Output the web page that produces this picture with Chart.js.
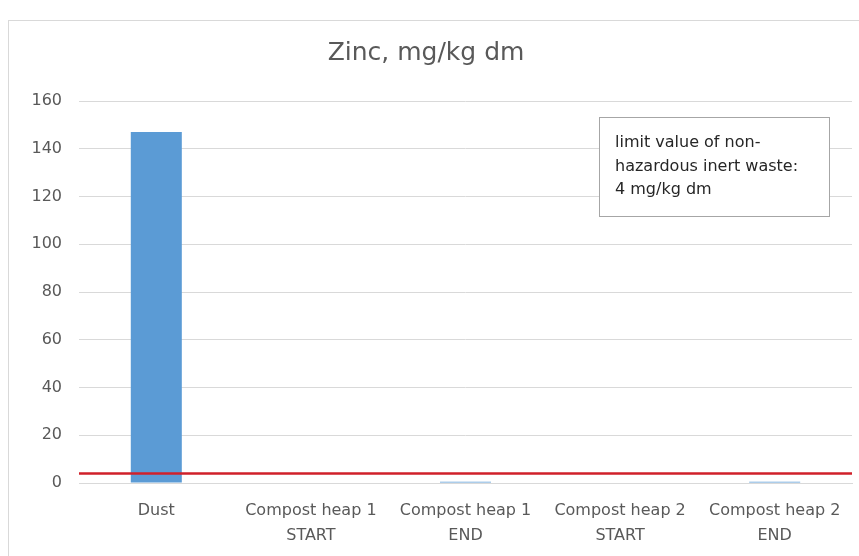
<!DOCTYPE html>
<html><head><meta charset="utf-8">
<script src="https://cdn.jsdelivr.net/npm/chart.js@4.4.1/dist/chart.umd.min.js"></script>
<style>
html,body{margin:0;padding:0;background:#fff;}
#wrap{position:relative;width:859px;height:556px;}
#frame{position:absolute;left:8px;top:20px;width:870px;height:560px;border:1px solid #d9d9d9;box-sizing:border-box;}
canvas{position:absolute;left:0;top:0;}
</style></head>
<body><div id="wrap"><div id="frame"></div><canvas id="c" width="859" height="556"></canvas></div>
<script>
const categories = [["Dust"],["Compost heap 1","START"],["Compost heap 1","END"],["Compost heap 2","START"],["Compost heap 2","END"]];
const zincValues = [147, 0, 0.5, 0, 0.5];
const limitValue = 4;
const yTicks = {min:0, max:160, step:20};
const titleText = "Zinc, mg/kg dm";
const noteLines = ["limit value of non-", "hazardous inert waste:", "4 mg/kg dm"];

const FONT = "'DejaVu Sans', sans-serif";

const limitPlugin = {
  id:'limit',
  afterDatasetsDraw(chart){
    const {ctx, chartArea, scales} = chart;
    const y = scales.y.getPixelForValue(limitValue);
    ctx.save();
    ctx.strokeStyle = '#d0202a';
    ctx.lineWidth = 2.5;
    ctx.beginPath();
    ctx.moveTo(chartArea.left, y);
    ctx.lineTo(chartArea.right, y);
    ctx.stroke();
    // note box
    ctx.fillStyle = '#fff';
    ctx.fillRect(599,117,231,100);
    ctx.strokeStyle = '#a6a6a6';
    ctx.lineWidth = 1;
    ctx.strokeRect(599.5,117.5,230,99);
    ctx.fillStyle = '#262626';
    ctx.font = "16px " + FONT;
    ctx.textBaseline = 'alphabetic';
    ctx.textAlign = 'left';
    noteLines.forEach((t,i)=>ctx.fillText(t, 615, 147 + i*23.5));
    ctx.restore();
  }
};

new Chart(document.getElementById('c'), {
  type:'bar',
  data:{ labels: categories, datasets:[{ data: zincValues, backgroundColor:'#5b9bd5', borderWidth:0, categoryPercentage:1, barPercentage:0.33 }]},
  options:{
    responsive:false, animation:false,
    layout:{padding:{left:0, right:7, top:30, bottom:-7}},
    plugins:{
      legend:{display:false}, tooltip:{enabled:false},
      title:{display:true, text:titleText, color:'#595959', font:{family:FONT, size:25, weight:'normal'}, padding:{top:8, bottom:33}}
    },
    scales:{
      x:{
        grid:{display:false, drawTicks:false},
        border:{display:true, color:'#d9d9d9'},
        ticks:{color:'#595959', font:{family:FONT, size:16, lineHeight:1.5625}, padding:15, maxRotation:0, autoSkip:false}
      },
      y:{
        min:yTicks.min, max:yTicks.max,
        afterFit(s){ s.width = 79; },
        grid:{color:'#d9d9d9', drawTicks:false},
        border:{display:false},
        ticks:{stepSize:yTicks.step, color:'#595959', font:{family:FONT, size:16}, padding:17}
      }
    }
  },
  plugins:[limitPlugin]
});
</script></body></html>
